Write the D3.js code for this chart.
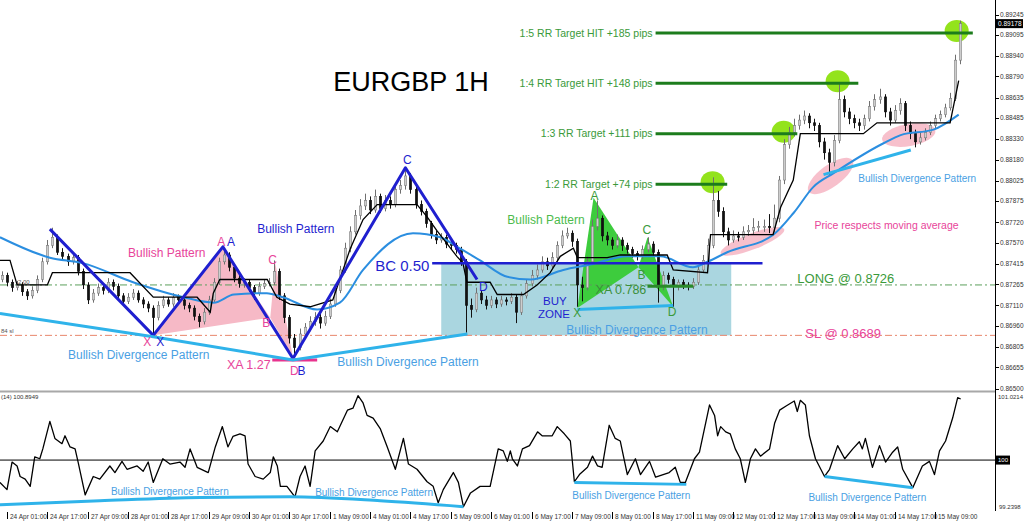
<!DOCTYPE html>
<html><head><meta charset="utf-8">
<script src="https://cdn.jsdelivr.net/npm/d3@7/dist/d3.min.js"></script>
<style>
html,body{margin:0;padding:0;background:#fff;overflow:hidden}
svg{display:block;font-family:"Liberation Sans",Arial,sans-serif}
</style></head><body>
<svg id="c" width="1024" height="525"></svg>
<script>
// ---------------- DATA ----------------
const timeLabels = ["24 Apr 01:00","24 Apr 17:00","27 Apr 09:00","28 Apr 01:00","28 Apr 17:00","29 Apr 09:00","30 Apr 01:00","30 Apr 17:00","1 May 09:00","4 May 01:00","4 May 17:00","5 May 09:00","6 May 01:00","6 May 17:00","7 May 09:00","8 May 01:00","8 May 17:00","11 May 09:00","12 May 01:00","12 May 17:00","13 May 09:00","14 May 01:00","14 May 17:00","15 May 09:00"];
const timeTickBars = [1,9,17,25,33,41,49,57,65,73,81,89,97,105,113,121,129,137,145,153,161,169,177,185];

const firstOpen = 0.8730;
const closes = [0.8733,0.8728,0.8724,0.8726,0.8721,0.8718,0.8722,0.8730,0.8743,0.8755,
0.8761,0.8750,0.8747,0.8743,0.8746,0.8736,0.8726,0.8715,0.8720,0.8724,
0.8722,0.8728,0.8725,0.8718,0.8714,0.8717,0.8720,0.8715,0.8712,0.8709,
0.8702,0.8711,0.8715,0.8712,0.8717,0.8715,0.8711,0.8709,0.8703,0.8699,
0.8706,0.8715,0.8728,0.8743,0.8748,0.8739,0.8731,0.8727,0.8728,0.8724,
0.8720,0.8725,0.8727,0.8728,0.8736,0.8718,0.8702,0.8687,0.8680,0.8690,
0.8695,0.8699,0.8702,0.8698,0.8703,0.8712,0.8722,0.8737,0.8753,0.8765,
0.8777,0.8784,0.8788,0.8781,0.8791,0.8782,0.8788,0.8785,0.8796,0.8799,
0.8806,0.8796,0.8785,0.8780,0.8771,0.8763,0.8759,0.8761,0.8756,0.8755,
0.8752,0.8743,0.8711,0.8708,0.8720,0.8715,0.8711,0.8715,0.8712,0.8715,
0.8714,0.8717,0.8706,0.8718,0.8727,0.8733,0.8737,0.8743,0.8740,0.8746,
0.8755,0.8762,0.8764,0.8758,0.8726,0.8724,0.8743,0.8769,0.8775,0.8762,
0.8759,0.8755,0.8759,0.8755,0.8752,0.8749,0.8747,0.8752,0.8756,0.8750,
0.8726,0.8733,0.8730,0.8725,0.8728,0.8726,0.8725,0.8728,0.8737,0.8744,
0.8755,0.8788,0.8780,0.8765,0.8759,0.8762,0.8761,0.8765,0.8766,0.8768,
0.8769,0.8769,0.8768,0.8775,0.8803,0.8829,0.8838,0.8843,0.8847,0.8850,
0.8845,0.8843,0.8831,0.8823,0.8816,0.8832,0.8862,0.8853,0.8848,0.8845,
0.8843,0.8848,0.8857,0.8862,0.8864,0.8853,0.8847,0.8854,0.8859,0.8843,
0.8837,0.8831,0.8834,0.8838,0.8843,0.8848,0.8851,0.8856,0.8863,0.8891,
0.89178];
const highs = [0.8736,0.8735,0.8730,0.8729,0.8728,0.8723,0.8725,0.8733,0.8746,0.8759,
0.8768,0.8763,0.8753,0.8749,0.8750,0.8748,0.8738,0.8728,0.8723,0.8727,
0.8726,0.8731,0.8730,0.8727,0.8720,0.8720,0.8723,0.8722,0.8717,0.8714,
0.8711,0.8714,0.8718,0.8717,0.8720,0.8719,0.8717,0.8713,0.8711,0.8705,
0.8709,0.8718,0.8731,0.8746,0.8753,0.8750,0.8741,0.8734,0.8731,0.8730,
0.8726,0.8728,0.8730,0.8731,0.8744,0.8738,0.8720,0.8704,0.8690,0.8694,
0.8698,0.8703,0.8706,0.8705,0.8707,0.8716,0.8725,0.8740,0.8757,0.8769,
0.8781,0.8789,0.8793,0.8791,0.8796,0.8793,0.8792,0.8791,0.8800,0.8803,
0.8812,0.8808,0.8798,0.8788,0.8782,0.8773,0.8766,0.8764,0.8763,0.8759,
0.8757,0.8754,0.8745,0.8716,0.8724,0.8722,0.8718,0.8718,0.8717,0.8718,
0.8717,0.8720,0.8719,0.8721,0.8730,0.8737,0.8741,0.8747,0.8746,0.8750,
0.8758,0.8766,0.8768,0.8766,0.8760,0.8732,0.8747,0.8774,0.8788,0.8777,
0.8765,0.8761,0.8763,0.8761,0.8757,0.8754,0.8751,0.8755,0.8761,0.8758,
0.8752,0.8736,0.8735,0.8732,0.8730,0.8730,0.8728,0.8731,0.8740,0.8748,
0.8760,0.8805,0.8795,0.8783,0.8768,0.8766,0.8765,0.8769,0.8770,0.8775,
0.8773,0.8774,0.8778,0.8785,0.8806,0.8833,0.8842,0.8848,0.8851,0.8854,
0.8852,0.8848,0.8845,0.8834,0.8826,0.8836,0.8875,0.8865,0.8856,0.8851,
0.8848,0.8851,0.8861,0.8866,0.8870,0.8866,0.8856,0.8858,0.8863,0.8861,
0.8846,0.8840,0.8838,0.8841,0.8846,0.8851,0.8854,0.8859,0.8867,0.8895,
0.8920];
const lows = [0.8728,0.8725,0.8721,0.8722,0.8718,0.8715,0.8716,0.8720,0.8728,0.8741,
0.8753,0.8748,0.8744,0.8740,0.8741,0.8733,0.8723,0.8712,0.8713,0.8718,
0.8719,0.8720,0.8722,0.8716,0.8711,0.8712,0.8715,0.8713,0.8709,0.8706,
0.8690,0.8700,0.8709,0.8710,0.8710,0.8713,0.8708,0.8706,0.8700,0.8695,
0.8697,0.8704,0.8713,0.8726,0.8741,0.8736,0.8728,0.8724,0.8724,0.8721,
0.8715,0.8718,0.8723,0.8725,0.8726,0.8715,0.8698,0.8683,0.8673,0.8678,
0.8687,0.8692,0.8696,0.8694,0.8696,0.8701,0.8710,0.8720,0.8735,0.8750,
0.8763,0.8774,0.8781,0.8778,0.8779,0.8779,0.8780,0.8782,0.8783,0.8793,
0.8796,0.8793,0.8782,0.8777,0.8768,0.8760,0.8756,0.8757,0.8753,0.8752,
0.8749,0.8740,0.8691,0.8702,0.8706,0.8712,0.8708,0.8709,0.8709,0.8710,
0.8711,0.8712,0.8698,0.8704,0.8716,0.8725,0.8730,0.8735,0.8737,0.8738,
0.8744,0.8753,0.8760,0.8754,0.8710,0.8714,0.8722,0.8741,0.8766,0.8758,
0.8755,0.8752,0.8753,0.8751,0.8749,0.8746,0.8744,0.8745,0.8750,0.8747,
0.8713,0.8722,0.8727,0.8710,0.8722,0.8723,0.8722,0.8723,0.8726,0.8735,
0.8742,0.8753,0.8776,0.8761,0.8755,0.8757,0.8758,0.8759,0.8762,0.8763,
0.8765,0.8765,0.8764,0.8765,0.8772,0.8800,0.8826,0.8835,0.8840,0.8844,
0.8841,0.8839,0.8827,0.8818,0.8807,0.8813,0.8830,0.8849,0.8844,0.8841,
0.8839,0.8840,0.8846,0.8854,0.8859,0.8849,0.8843,0.8845,0.8851,0.8839,
0.8833,0.8827,0.8829,0.8832,0.8836,0.8841,0.8846,0.8849,0.8854,0.8861,
0.8888];

// moving average (blue) and step line (black), read at bar positions
const maBars = [-0.4,9.5,16,26,36,42,46,52.5,55.7,62.5,67,71.6,81.5,86.9,90.3,94.8,100.2,104.8,111.3,116.7,124,130.5,137,139.9,143.8,153,157,160.9,164.9,174.8,178.2,184.7,189.7];
const maValues = [0.8761,0.8746,0.8742,0.8728,0.8717,0.8713,0.8719,0.8720,0.8717,0.8708,0.8713,0.8737,0.8764,0.8761,0.8754,0.8744,0.8732,0.8730,0.8737,0.8741,0.8747,0.8747,0.8739,0.8743,0.8750,0.8763,0.8779,0.8798,0.8808,0.8830,0.8836,0.8840,0.8851];
const stepBars = [-0.4,1.6,3,9,10,25.4,30,38.7,41.3,41.9,43.2,52.6,54.5,57.1,61.1,65.6,69,71.6,74.4,82.3,84.3,86.2,90.2,91.4,92.2,96.8,98.2,103.4,106.1,108.7,110.7,113.3,114.1,120,122.6,131.9,133.1,139.9,140.5,152.9,154.4,156.9,158.3,170.8,173.5,188,189.7];
const stepValues = [0.8744,0.8744,0.8726,0.8726,0.8735,0.8735,0.8717,0.8717,0.8706,0.8720,0.8730,0.8730,0.8717,0.8712,0.8710,0.8715,0.8752,0.8774,0.8785,0.8785,0.8776,0.8766,0.8747,0.8742,0.8728,0.8728,0.8719,0.8719,0.8726,0.8735,0.8747,0.8753,0.8746,0.8746,0.8748,0.8748,0.8737,0.8735,0.8763,0.8763,0.8783,0.8803,0.8837,0.8837,0.8845,0.8845,0.8876];

// oscillator (14)
const oscBars = [-0.4,1,2,3,3.6,4.6,5.6,6.5,7.5,8.1,9.5,10.5,11.9,12.5,13.5,14.5,15.1,16.5,18.1,19.4,21.4,22.4,23.8,24.8,26.8,28,29,30,31.9,33.3,35.3,36.3,37.3,38.7,40.9,42.3,43.7,44.8,45.8,47.2,48.2,48.8,50.2,51.8,53.2,53.8,54.6,55.2,56.5,58.1,59.1,60.1,61.1,62.1,63.7,65.1,66.5,68.5,69.6,70.6,71.6,72.4,73.6,75,76.4,78,79.6,80.6,82.3,84.3,85.5,86.5,87.5,89.5,90.5,91.5,92.9,94.8,96.8,98.4,99.4,100.2,100.8,101.2,102.2,103.2,104.6,106.2,107.1,109.1,110.1,111.5,112.7,113.5,114.5,116.1,117.1,118.1,119,120.4,121.6,122.6,124,125.6,126.6,128.4,129.6,132.3,133.5,134.5,135.5,137.3,138.3,140.3,141.3,141.9,142.5,143.5,144.4,145.4,146.4,147.4,148.4,149.4,150.4,152.2,153.2,154.2,155.4,157.1,157.7,158.3,159.3,160.1,161.3,163.1,164.1,165.7,167.1,168.7,170,170.6,171.2,172.6,174,175.2,176.6,177.6,178.6,180.6,182.5,183.9,184.9,185.9,187.1,188.5,189.5,190.1];
const oscValues = [99.66,99.55,99.97,99.91,99.75,99.71,99.60,100.05,100.02,100.17,100.59,100.33,100.25,100.37,100.20,100.17,99.97,99.47,99.75,99.71,99.91,99.81,99.98,99.86,99.91,99.83,99.97,99.66,100.02,99.94,99.97,99.89,100.17,99.89,99.81,100.20,100.51,100.20,100.36,100.40,100.37,99.94,99.75,99.71,99.81,100.05,99.91,99.60,99.60,99.44,99.75,99.91,99.60,100.14,100.29,100.51,100.43,100.76,100.79,100.98,100.87,100.68,100.64,100.48,100.20,99.86,100.33,99.94,99.86,99.67,99.60,99.35,99.55,99.81,99.66,99.29,99.50,99.60,99.60,100.17,100.14,99.98,100.14,100.02,99.91,100.17,100.22,100.43,100.37,100.37,100.51,100.40,100.29,99.67,99.78,99.89,100.06,99.91,99.89,100.53,100.33,100.29,99.78,100.02,99.78,99.98,99.74,99.81,99.89,99.66,99.66,100.02,100.12,100.84,100.68,100.37,100.51,100.43,100.40,100.17,100.02,99.66,100.02,100.17,100.06,100.17,100.56,100.76,100.82,100.90,100.74,100.91,100.84,100.37,100.02,99.75,99.86,100.22,100.02,100.17,100.28,100.17,100.33,99.89,100.22,99.97,100.12,100.20,99.86,99.58,99.91,99.98,99.78,100.14,100.29,100.64,100.95,100.93];

const priceTicks = [0.89245,0.89095,0.88940,0.88790,0.88635,0.88485,0.88330,0.88180,0.88025,0.87875,0.87720,0.87570,0.87415,0.87265,0.87110,0.86960,0.86805,0.86655,0.86500];
const lastPrice = 0.89178;
const oscTicks = [101.0214, 100, 99.2398];
const oscLevel = 100;
const oscName = "(14) 100.8949";

const longPrice = 0.8726, slPrice = 0.8689;
const targetLabels = ["1:2 RR Target +74 pips","1:3 RR Target +111 pips","1:4 RR Target HIT +148 pips","1:5 RR Target HIT +185 pips"];
const targetPrices = [0.8800,0.8837,0.8874,0.8911];
const targetStartBar = 129.6;
const targetEndBars = [143.8,157.7,169.8,192.5];
const targetHitBars = [140.9,155,165.7,189.3];

// harmonic patterns (bar, price)
const blueZigBars = [9.5,30,43.8,57.7,80,94.2];
const blueZigPrices = [0.8767,0.8689,0.8754,0.8672,0.8812,0.8730];
const pinkXABBars = [30,43.8,53.2], pinkXABPrices = [0.8689,0.8753,0.8702];
const pinkBCDBars = [53.2,54.2,57.7], pinkBCDPrices = [0.8702,0.8742,0.8673];
const greenXABBars = [114.1,117.3,126.2], greenXABPrices = [0.8709,0.8790,0.8739];
const greenBCDBars = [126.2,128,133.1], greenBCDPrices = [0.8739,0.8761,0.8710];
const bcLevel = 0.8742, bcBars = [85.3,150.8];
const buyZoneBars = [87.1,144.6], buyZonePrices = [0.8742,0.8689];
const xa127Level = 0.8671, xa127Bars = [53.6,62.5];
const xa786Level = 0.8725, xa786Bars = [128,137.1];

// divergence lines
const divMainBars = [[-0.4,30,57.7,92.3],[114.1,133.1],[162.9,180.2]];
const divMainPrices = [[0.8705,0.8688,0.8671,0.8690],[0.8708,0.8711],[0.8807,0.8825]];
const divOscBars = [[-0.4,19.4,39.3,57.1,75,91.5],[113.5,135.7],[163.1,180.6]];
const divOscValues = [[99.32,99.38,99.43,99.44,99.38,99.29],[99.66,99.63],[99.75,99.58]];

// pink ellipses around MA touches
const touchBars = [148.8,164.3,179.8];
const touchPrices = [0.8758,0.8806,0.8836];

// ---------------- SCALES ----------------
const svg = d3.select("#c");
const AXX = 995;
const x = d3.scaleLinear().domain([0,190]).range([1.96,960.2]);
const y = d3.scaleLinear().domain([0.86500,0.89245]).range([388.5,14.5]);
const yo = d3.scaleLinear().domain([99.2398,101.0214]).range([510,393]);

const defs = svg.append("defs");
defs.append("clipPath").attr("id","cm").append("rect").attr("x",0).attr("y",0).attr("width",AXX).attr("height",390);
defs.append("clipPath").attr("id","co").append("rect").attr("x",0).attr("y",393).attr("width",AXX).attr("height",118);

const main = svg.append("g").attr("clip-path","url(#cm)");
const osc = svg.append("g").attr("clip-path","url(#co)");

const FONT = '"Liberation Sans", Arial, sans-serif';
const C = {
  navy:"#1f1fcf", pinkText:"#e8449a", pinkFill:"#f6b9c6", pinkLine:"#e8338e",
  green:"#3a9a3a", lime:"#3dcc3d", darkGreen:"#1c7c1c", circle:"#93e31c",
  zone:"#aad6e0", divLine:"#2fb3ea", divText:"#4a9fe3", ma:"#2b8ee0"
};

// buy zone
main.append("rect")
  .attr("x",x(buyZoneBars[0])).attr("width",x(buyZoneBars[1])-x(buyZoneBars[0]))
  .attr("y",y(buyZonePrices[0])).attr("height",y(buyZonePrices[1])-y(buyZonePrices[0]))
  .attr("fill",C.zone);

// pattern fills
function tri(g, bars, prices, fill){
  g.append("path").attr("d", d3.line()(bars.map((b,i)=>[x(b),y(prices[i])]))+"Z").attr("fill",fill);
}
tri(main,pinkXABBars,pinkXABPrices,C.pinkFill);
tri(main,pinkBCDBars,pinkBCDPrices,C.pinkFill);
tri(main,greenXABBars,greenXABPrices,C.lime);
tri(main,greenBCDBars,greenBCDPrices,C.lime);

// pink ellipses
const ellStyle = [[34,8,-21],[27,11,-36],[27,11,-10]];
touchBars.forEach((b,i)=>{
  main.append("ellipse").attr("cx",0).attr("cy",0).attr("rx",ellStyle[i][0]).attr("ry",ellStyle[i][1])
    .attr("transform",`translate(${x(b)},${y(touchPrices[i])}) rotate(${ellStyle[i][2]})`)
    .attr("fill",C.pinkFill).attr("opacity",0.9);
});

// target circles
targetPrices.forEach((p,i)=>{
  main.append("ellipse").attr("cx",x(targetHitBars[i])).attr("cy",y(p)-2).attr("rx",12).attr("ry",11).attr("fill",C.circle);
});

// LONG / SL lines
main.append("line").attr("x1",0).attr("x2",AXX).attr("y1",y(longPrice)).attr("y2",y(longPrice))
  .attr("stroke","#5b9f5b").attr("stroke-width",1).attr("stroke-dasharray","7,3,2,3");
main.append("line").attr("x1",0).attr("x2",AXX).attr("y1",y(slPrice)).attr("y2",y(slPrice))
  .attr("stroke","#e8876c").attr("stroke-width",1).attr("stroke-dasharray","7,3,2,3");

// candles
const cg = main.append("g");
closes.forEach((c,i)=>{
  const o = i===0 ? firstOpen : closes[i-1];
  const bull = c >= o;
  const cx = Math.round(x(i))+0.5;
  cg.append("line").attr("x1",cx).attr("x2",cx).attr("y1",y(highs[i])).attr("y2",y(lows[i]))
    .attr("stroke", bull ? "#6f6f6f" : "#111").attr("stroke-width",1);
  const top = y(Math.max(o,c)), bot = y(Math.min(o,c));
  cg.append("rect").attr("x",cx-1.25).attr("width",2.5).attr("y",top).attr("height",Math.max(1,bot-top))
    .attr("fill", bull ? "#cdcdcd" : "#111").attr("stroke", bull ? "#777" : "#111").attr("stroke-width",0.5);
});

// MA and step line
main.append("path").attr("d", d3.line().curve(d3.curveMonotoneX)(maBars.map((b,i)=>[x(b),y(maValues[i])])))
  .attr("fill","none").attr("stroke",C.ma).attr("stroke-width",2);
main.append("path").attr("d", d3.line()(stepBars.map((b,i)=>[x(b),y(stepValues[i])])))
  .attr("fill","none").attr("stroke","#000").attr("stroke-width",1.3);

// pattern lines
main.append("path").attr("d", d3.line()(blueZigBars.map((b,i)=>[x(b),y(blueZigPrices[i])])))
  .attr("fill","none").attr("stroke",C.navy).attr("stroke-width",3).attr("stroke-linejoin","round");
main.append("line").attr("x1",x(bcBars[0])).attr("x2",x(bcBars[1])).attr("y1",y(bcLevel)).attr("y2",y(bcLevel))
  .attr("stroke",C.navy).attr("stroke-width",2.5);
main.append("line").attr("x1",x(xa127Bars[0])).attr("x2",x(xa127Bars[1])).attr("y1",y(xa127Level)).attr("y2",y(xa127Level))
  .attr("stroke",C.pinkLine).attr("stroke-width",3);
main.append("line").attr("x1",x(xa786Bars[0])).attr("x2",x(xa786Bars[1])).attr("y1",y(xa786Level)).attr("y2",y(xa786Level))
  .attr("stroke","#2a8a2a").attr("stroke-width",3);

divMainBars.forEach((bs,k)=>{
  main.append("path").attr("d", d3.line()(bs.map((b,i)=>[x(b),y(divMainPrices[k][i])])))
    .attr("fill","none").attr("stroke",C.divLine).attr("stroke-width",3);
});

// target lines
targetPrices.forEach((p,i)=>{
  main.append("line").attr("x1",x(targetStartBar)).attr("x2",x(targetEndBars[i])).attr("y1",y(p)).attr("y2",y(p))
    .attr("stroke",C.darkGreen).attr("stroke-width",3);
  main.append("text").attr("x",x(targetStartBar)-3).attr("y",y(p)).attr("dy","0.35em")
    .attr("text-anchor","end").attr("font-size",10.5).attr("fill",C.green).text(targetLabels[i]);
});

// annotation texts (anchored in data space)
function txt(g, s, bx, py, color, size, anchor, ys){
  return g.append("text").attr("x",x(bx)).attr("y",(ys||y)(py)).attr("fill",color).attr("font-size",size)
    .attr("text-anchor",anchor||"start").attr("font-family",FONT).text(s);
}
txt(main,"EURGBP 1H",65.7,0.8868,"#000",27);
txt(main,"Bullish Pattern",25,0.87466,C.pinkText,12);
txt(main,"Bullish Pattern",50.6,0.87642,C.navy,12);
txt(main,"Bullish Pattern",100.2,0.87708,"#4cbb4c",12);
txt(main,"BC 0.50",74,0.87364,C.navy,15);
txt(main,"XA 1.27",44.6,0.86646,C.pinkText,12.5);
txt(main,"XA 0.786",117.7,0.87190,"#3b8f3b",12.5);
txt(main,"BUY",107.3,0.87115,C.navy,11.5);
txt(main,"ZONE",106.3,0.87015,C.navy,11.5);
txt(main,"LONG @ 0.8726",157.7,0.87276,C.green,13);
txt(main,"SL @ 0.8689",159.3,0.86873,C.pinkText,13);
txt(main,"Price respects moving average",161.1,0.87671,C.pinkText,10.5);
txt(main,"Bullish Divergence Pattern",13.1,0.86715,C.divText,12);
txt(main,"Bullish Divergence Pattern",66.5,0.86668,C.divText,12);
txt(main,"Bullish Divergence Pattern",111.9,0.86900,C.divText,12);
txt(main,"Bullish Divergence Pattern",169.8,0.88015,C.divText,10);
// pattern letters
[["X",28,0.86810,C.pinkText],["A",42.7,0.87547,C.pinkText],["B",51.6,0.86950,C.pinkText],["C",52.8,0.87415,C.pinkText],["D",57.1,0.8660,C.pinkText],
 ["X",30.6,0.86810,C.navy],["A",44.6,0.87547,C.navy],["B",58.6,0.8660,C.navy],["C",79.5,0.88147,C.navy],["D",94.6,0.87217,C.navy],
 ["A",116.7,0.8788,C.green],["C",127,0.87631,C.green],["B",126,0.87305,C.green],["X",113.3,0.87025,C.green],["D",132,0.87035,C.green]
].forEach(d=>txt(main,d[0],d[1],d[2],d[3],12));
// tiny indicator notes at left
main.append("text").attr("x",1).attr("y",y(slPrice)-2).attr("font-size",6).attr("fill","#555").text("84 sl");
main.append("text").attr("x",18).attr("y",y(longPrice)-1).attr("font-size",6).attr("fill","#555").text("2.00");

// ---------------- OSCILLATOR ----------------
svg.append("rect").attr("x",0).attr("y",390.5).attr("width",AXX).attr("height",2).attr("fill","#a8a8a8");
osc.append("line").attr("x1",0).attr("x2",AXX).attr("y1",yo(oscLevel)).attr("y2",yo(oscLevel)).attr("stroke","#000").attr("stroke-width",1);
osc.append("path").attr("d", d3.line()(oscBars.map((b,i)=>[x(b),yo(oscValues[i])])))
  .attr("fill","none").attr("stroke","#000").attr("stroke-width",1.3).attr("stroke-linejoin","round");
divOscBars.forEach((bs,k)=>{
  osc.append("path").attr("d", d3.line().curve(d3.curveMonotoneX)(bs.map((b,i)=>[x(b),yo(divOscValues[k][i])])))
    .attr("fill","none").attr("stroke",C.divLine).attr("stroke-width",3);
});
txt(osc,"Bullish Divergence Pattern",21.6,99.473,C.divText,10,"start",yo);
txt(osc,"Bullish Divergence Pattern",62.1,99.457,C.divText,10,"start",yo);
txt(osc,"Bullish Divergence Pattern",113.1,99.411,C.divText,10,"start",yo);
txt(osc,"Bullish Divergence Pattern",159.9,99.380,C.divText,10,"start",yo);
osc.append("text").attr("x",1).attr("y",399).attr("font-size",6).attr("fill","#333").text(oscName);

// ---------------- AXES ----------------
svg.append("line").attr("x1",AXX+0.5).attr("x2",AXX+0.5).attr("y1",0).attr("y2",511).attr("stroke","#000");
const pa = svg.append("g").attr("font-size",6.5).attr("fill","#333");
priceTicks.forEach(p=>{
  pa.append("line").attr("x1",AXX).attr("x2",AXX+4).attr("y1",Math.round(y(p))+0.5).attr("y2",Math.round(y(p))+0.5).attr("stroke","#000");
  pa.append("text").attr("x",AXX+5).attr("y",y(p)).attr("dy","0.35em").text(d3.format(".5f")(p));
});
pa.append("rect").attr("x",AXX+1).attr("y",y(lastPrice)-4.5).attr("width",27).attr("height",9).attr("fill","#000");
pa.append("text").attr("x",AXX+3).attr("y",y(lastPrice)).attr("dy","0.35em").attr("fill","#fff").text(d3.format(".5f")(lastPrice));

const oa = svg.append("g").attr("font-size",6).attr("fill","#333");
oa.append("text").attr("x",AXX+3).attr("y",yo(oscTicks[0])+6).text(d3.format(".4f")(oscTicks[0]));
oa.append("text").attr("x",AXX+4).attr("y",yo(oscTicks[2])-1).text(d3.format(".4f")(oscTicks[2]));
oa.append("rect").attr("x",AXX+1).attr("y",yo(oscTicks[1])-4.5).attr("width",14).attr("height",9).attr("fill","#000");
oa.append("text").attr("x",AXX+3).attr("y",yo(oscTicks[1])).attr("dy","0.35em").attr("fill","#fff").text(String(oscTicks[1]));

const ta = svg.append("g").attr("font-size",6.5).attr("fill","#333");
timeTickBars.forEach((b,i)=>{
  const tx = Math.round(x(b))+0.5;
  ta.append("line").attr("x1",tx).attr("x2",tx).attr("y1",512).attr("y2",519).attr("stroke","#000");
  ta.append("text").attr("x",tx+2.5).attr("y",518.5).text(timeLabels[i]);
});
</script>
</body></html>
